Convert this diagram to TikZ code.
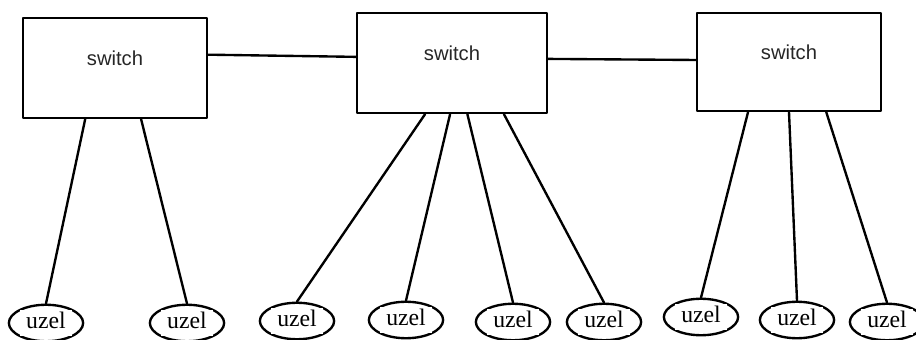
\documentclass[tikz,border=0pt]{standalone}
\usepackage{fontspec}
\newfontfamily\swfont{Liberation Sans}
\newfontfamily\uzfont{Liberation Serif}
\usetikzlibrary{calc,shapes.geometric}
% weisser Kasten hinter dem Text, verdeckt den Ellipsenrand
\newcommand{\wb}[1]{{\setlength{\fboxsep}{1.2pt}\colorbox{white}{\hspace{2.5pt}\vphantom{Ag}#1\hspace{2.5pt}}}}
\tikzset{
  every picture/.style={line width=1.35pt, line cap=round, line join=round},
  % Switch: Rechteck, Beschriftung im oberen Teil
  swlbl/.style={font=\swfont\fontsize{11.5}{13}\selectfont, text=black!85, yshift=0.2cm},
  switchbox/.style={draw, rectangle, inner sep=0pt,
    minimum width=3.68cm, minimum height=2cm, label={[swlbl]center:switch}},
  % Knoten unten
  uzel/.style={draw, ellipse, inner sep=0pt, minimum width=1.46cm, minimum height=0.6cm,
    font=\uzfont\fontsize{13.5}{15}\selectfont},
}
\begin{document}
\begin{tikzpicture}[x=0.02cm, y=-0.02cm]
  \useasboundingbox (0,0) rectangle (916,340);
  % drei Switches
  \node[switchbox] (sw1) at (115,68) {};
  \node[switchbox, minimum width=3.8cm] (sw2) at (452,63) {};
  \node[switchbox, minimum height=1.96cm] (sw3) at (789,62) {};
  % Verbindungen zwischen den Switches
  \draw ($(sw1.north east)!0.37!(sw1.south east)$) -- ($(sw2.north west)!0.44!(sw2.south west)$);
  \draw ($(sw2.north east)!0.46!(sw2.south east)$) -- ($(sw3.north west)!0.48!(sw3.south west)$);
  % Knoten
  \foreach \n/\x/\y in {1/46/323, 2/187/323, 3/297/321, 4/406/320, 5/513/322,
      6/604/322, 7/701/317, 8/797/320, 9/887/322}
    \node[uzel] (u\n) at (\x,\y) {\wb{uzel}};
  % Leitungen Switch -> Knoten
  \foreach \s/\f/\u in {sw1/0.34/u1, sw1/0.64/u2, sw2/0.36/u3, sw2/0.49/u4,
      sw2/0.58/u5, sw2/0.77/u6, sw3/0.28/u7, sw3/0.5/u8, sw3/0.7/u9}
    \draw ($(\s.south west)!\f!(\s.south east)$) -- (\u.north);
\end{tikzpicture}
\end{document}
